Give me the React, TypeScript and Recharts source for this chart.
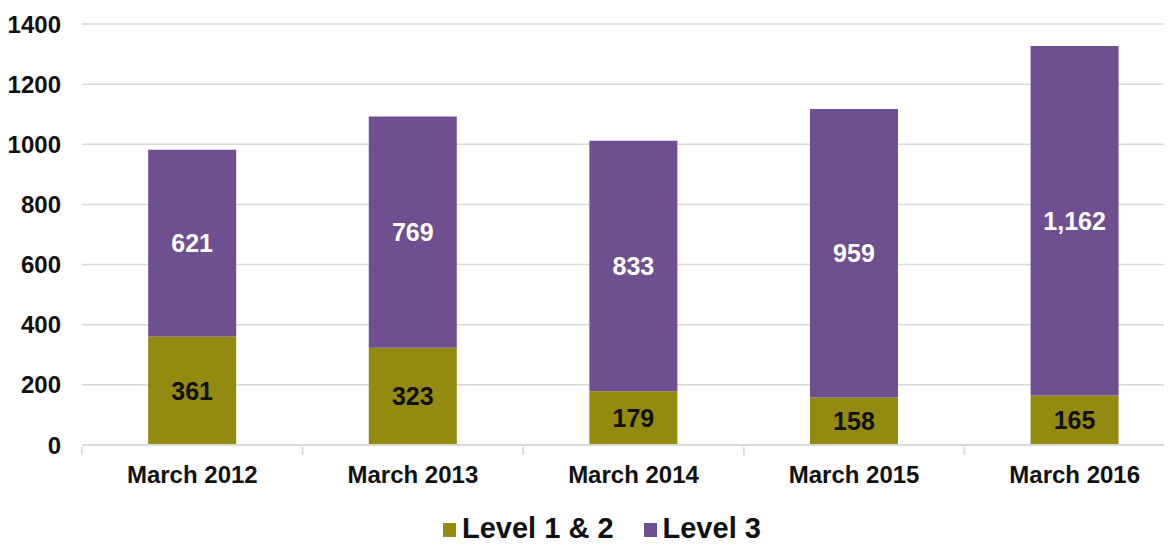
import { Bar, BarChart, CartesianGrid, LabelList, Legend, XAxis, YAxis } from 'recharts';

const periods = ['March 2012', 'March 2013', 'March 2014', 'March 2015', 'March 2016'];
const level12 = [361, 323, 179, 158, 165];
const level3 = [621, 769, 833, 959, 1162];
const yTicks = [0, 200, 400, 600, 800, 1000, 1200, 1400];

const OLIVE = '#938A10';
const PURPLE = '#6E5090';
const FONT = '"Liberation Sans", Arial, sans-serif';

const rows = periods.map((p, i) => ({ period: p, level12: level12[i], level3: level3[i] }));

const fmt = (v: unknown) => Number(v).toLocaleString('en-US');

function XTick(props: any) {
  const { x, y, payload } = props;
  const half = payload?.offset ?? 110.3;
  return (
    <g>
      <line x1={x - half} y1={y - 6} x2={x - half} y2={y + 2} stroke="#d9d9d9" strokeWidth={1.5} />
      <line x1={x + half} y1={y - 6} x2={x + half} y2={y + 2} stroke="#d9d9d9" strokeWidth={1.5} />
      <text x={x} y={y + 30} textAnchor="middle" fontFamily={FONT} fontWeight={700} fontSize={24} fill="#111">
        {payload.value}
      </text>
    </g>
  );
}

function LegendBox() {
  const items = [
    { name: 'Level 1 & 2', color: OLIVE },
    { name: 'Level 3', color: PURPLE },
  ];
  return (
    <div style={{ display: 'flex', paddingLeft: 443, fontFamily: FONT, fontWeight: 700, fontSize: 29, lineHeight: '29px', color: '#111' }}>
      {items.map((it) => (
        <div key={it.name} style={{ display: 'flex', alignItems: 'flex-start', marginRight: 30 }}>
          <span style={{ width: 13, height: 14, background: it.color, display: 'inline-block', marginRight: 6, marginTop: 9 }} />
          <span>{it.name}</span>
        </div>
      ))}
    </div>
  );
}

export default function App() {
  return (
    <div style={{ margin: -8, width: 1172, height: 547, overflow: 'hidden', background: '#fff', position: 'relative' }}>
      <BarChart
        width={1185}
        height={547}
        data={rows}
        margin={{ top: 24, right: 0, bottom: 0, left: 0 }}
        barCategoryGap="30%"
      >
        <CartesianGrid vertical={false} stroke="#d9d9d9" strokeWidth={1.5} />
        <YAxis
          width={82}
          domain={[0, 1400]}
          ticks={yTicks}
          axisLine={false}
          tickLine={false}
          tickSize={0}
          tickMargin={21}
          tick={{ fontFamily: FONT, fontWeight: 700, fontSize: 24, fill: '#111' }}
        />
        <XAxis
          dataKey="period"
          height={50}
          axisLine={{ stroke: '#d9d9d9', strokeWidth: 2 }}
          tickLine={false}
          tick={<XTick />}
          interval={0}
        />
        <Legend
          verticalAlign="bottom"
          height={52}
          content={<LegendBox />}
          wrapperStyle={{ top: 514, left: 0, width: 1172 }}
        />
        <Bar dataKey="level12" name="Level 1 & 2" stackId="a" fill={OLIVE} isAnimationActive={false}>
          <LabelList dataKey="level12" position="center" formatter={fmt} fill="#111" fontFamily={FONT} fontWeight={700} fontSize={25} />
        </Bar>
        <Bar dataKey="level3" name="Level 3" stackId="a" fill={PURPLE} isAnimationActive={false}>
          <LabelList dataKey="level3" position="center" formatter={fmt} fill="#fff" fontFamily={FONT} fontWeight={700} fontSize={25} />
        </Bar>
      </BarChart>
    </div>
  );
}
